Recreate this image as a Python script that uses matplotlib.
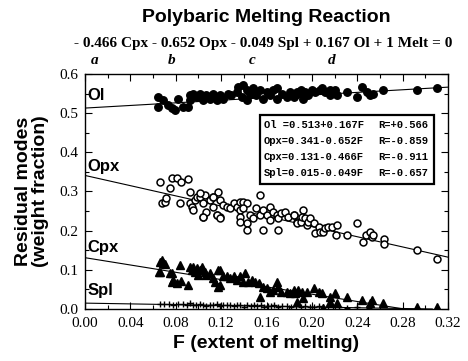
import matplotlib
matplotlib.use("Agg")
import matplotlib.pyplot as plt
from matplotlib.ticker import MultipleLocator, FormatStrFormatter

# ---- data: (F, weight fraction) ----
ol_F = [0.0646, 0.0646, 0.069, 0.0735, 0.0765, 0.079, 0.082, 0.0867, 0.091, 0.0926,
        0.0926, 0.0955, 0.0985, 0.101, 0.104, 0.107, 0.110, 0.113, 0.116, 0.119,
        0.122, 0.126, 0.129, 0.134, 0.135, 0.1395, 0.138, 0.1425, 0.1425, 0.1455,
        0.1485, 0.151, 0.154, 0.157, 0.160, 0.163, 0.166, 0.169, 0.169, 0.1735,
        0.178, 0.181, 0.187, 0.184, 0.187, 0.190, 0.1925, 0.194, 0.197, 0.200,
        0.203, 0.207, 0.2085, 0.2115, 0.216, 0.216, 0.2205, 0.222, 0.231, 0.2395,
        0.244, 0.2485, 0.2515, 0.254, 0.263, 0.2925, 0.310]
ol_y = [0.541, 0.516, 0.533, 0.520, 0.512, 0.507, 0.537, 0.516, 0.516, 0.533,
        0.546, 0.550, 0.541, 0.550, 0.533, 0.546, 0.537, 0.550, 0.533, 0.546,
        0.537, 0.550, 0.546, 0.555, 0.567, 0.572, 0.541, 0.559, 0.533, 0.550,
        0.563, 0.546, 0.559, 0.537, 0.555, 0.546, 0.559, 0.563, 0.537, 0.550,
        0.541, 0.555, 0.550, 0.541, 0.555, 0.559, 0.537, 0.555, 0.546, 0.559,
        0.555, 0.559, 0.565, 0.555, 0.559, 0.546, 0.559, 0.546, 0.555, 0.541,
        0.567, 0.555, 0.546, 0.550, 0.559, 0.559, 0.563]

opx_F = [0.066, 0.0676, 0.0705, 0.071, 0.075, 0.0765, 0.081, 0.085, 0.091, 0.084,
         0.0926, 0.0926, 0.094, 0.0955, 0.097, 0.0985, 0.101, 0.104, 0.104, 0.106,
         0.107, 0.110, 0.113, 0.113, 0.1175, 0.116, 0.119, 0.119, 0.122, 0.125,
         0.128, 0.131, 0.134, 0.154, 0.137, 0.1395, 0.1425, 0.137, 0.1395, 0.137,
         0.137, 0.1425, 0.1455, 0.1485, 0.151, 0.154, 0.157, 0.160, 0.163, 0.163,
         0.1425, 0.157, 0.1705, 0.166, 0.169, 0.1705, 0.173, 0.176, 0.179, 0.184,
         0.187, 0.101, 0.113, 0.104, 0.116, 0.119, 0.184, 0.187, 0.190, 0.1925,
         0.191, 0.194, 0.1955, 0.197, 0.1985, 0.2015, 0.203, 0.206, 0.207, 0.210,
         0.2115, 0.2145, 0.2175, 0.222, 0.2215, 0.231, 0.2395, 0.245, 0.248, 0.2515,
         0.253, 0.254, 0.264, 0.264, 0.293, 0.310]
opx_y = [0.325, 0.270, 0.274, 0.283, 0.308, 0.335, 0.335, 0.325, 0.331, 0.270,
         0.299, 0.270, 0.261, 0.253, 0.278, 0.287, 0.287, 0.270, 0.236, 0.291,
         0.248, 0.278, 0.287, 0.261, 0.299, 0.240, 0.236, 0.278, 0.266, 0.261,
         0.257, 0.270, 0.261, 0.291, 0.274, 0.274, 0.270, 0.253, 0.257, 0.236,
         0.223, 0.219, 0.240, 0.232, 0.257, 0.240, 0.253, 0.240, 0.261, 0.227,
         0.202, 0.202, 0.202, 0.248, 0.240, 0.232, 0.244, 0.248, 0.236, 0.240,
         0.223, 0.295, 0.287, 0.236, 0.240, 0.232, 0.240, 0.219, 0.223, 0.253,
         0.236, 0.232, 0.214, 0.223, 0.232, 0.219, 0.193, 0.210, 0.197, 0.197,
         0.206, 0.210, 0.210, 0.214, 0.189, 0.189, 0.219, 0.170, 0.189, 0.197,
         0.185, 0.189, 0.180, 0.165, 0.150, 0.128]

cpx_F = [0.066, 0.069, 0.0705, 0.066, 0.075, 0.084, 0.0765, 0.081, 0.085, 0.091,
         0.0926, 0.094, 0.0955, 0.097, 0.0985, 0.100, 0.103, 0.106, 0.107, 0.110,
         0.113, 0.1145, 0.1175, 0.119, 0.122, 0.125, 0.128, 0.131, 0.134, 0.137,
         0.1395, 0.141, 0.144, 0.147, 0.150, 0.153, 0.154, 0.157, 0.160, 0.163,
         0.166, 0.169, 0.1705, 0.173, 0.178, 0.181, 0.185, 0.188, 0.0676, 0.065,
         0.0765, 0.078, 0.101, 0.1175, 0.119, 0.184, 0.191, 0.1925, 0.1955, 0.2015,
         0.206, 0.209, 0.216, 0.216, 0.2205, 0.222, 0.231, 0.244, 0.2515, 0.253,
         0.263, 0.2925, 0.310, 0.187, 0.210]
cpx_y = [0.121, 0.118, 0.115, 0.095, 0.091, 0.112, 0.070, 0.066, 0.072, 0.061,
         0.108, 0.100, 0.108, 0.095, 0.104, 0.087, 0.108, 0.095, 0.087, 0.091,
         0.078, 0.070, 0.057, 0.100, 0.083, 0.083, 0.078, 0.083, 0.074, 0.083,
         0.070, 0.091, 0.070, 0.074, 0.070, 0.066, 0.031, 0.057, 0.053, 0.044,
         0.048, 0.070, 0.057, 0.044, 0.044, 0.040, 0.040, 0.048, 0.125, 0.095,
         0.091, 0.074, 0.100, 0.100, 0.061, 0.048, 0.044, 0.027, 0.044, 0.053,
         0.044, 0.040, 0.031, 0.019, 0.040, 0.015, 0.031, 0.023, 0.015, 0.023,
         0.015, 0.006, 0.004, 0.019, 0.002]

spl_F = [0.066, 0.070, 0.074, 0.078, 0.082, 0.086, 0.090, 0.093, 0.095, 0.098,
         0.101, 0.104, 0.107, 0.110, 0.113, 0.116, 0.119, 0.122, 0.125, 0.128,
         0.131, 0.134, 0.137, 0.140, 0.143, 0.146, 0.149, 0.152, 0.155, 0.158,
         0.161, 0.164, 0.167, 0.170, 0.174, 0.178, 0.182, 0.186, 0.190, 0.194,
         0.198, 0.202, 0.206, 0.210, 0.214, 0.219, 0.224, 0.231, 0.240, 0.250]
spl_y = [0.013, 0.012, 0.014, 0.011, 0.013, 0.012, 0.010, 0.015, 0.011, 0.009,
         0.012, 0.010, 0.008, 0.011, 0.009, 0.012, 0.008, 0.010, 0.009, 0.011,
         0.007, 0.009, 0.010, 0.006, 0.009, 0.008, 0.010, 0.007, 0.009, 0.006,
         0.008, 0.007, 0.009, 0.005, 0.008, 0.007, 0.006, 0.008, 0.005, 0.007,
         0.006, 0.004, 0.007, 0.005, 0.006, 0.004, 0.006, 0.003, 0.005, 0.003]

# regression fits  y = a + b*F
fits = {"Ol": (0.513, 0.167), "Opx": (0.341, -0.652),
        "Cpx": (0.131, -0.466), "Spl": (0.015, -0.049)}
fit_text = ["Ol =0.513+0.167F", "Opx=0.341-0.652F", "Cpx=0.131-0.466F", "Spl=0.015-0.049F"]
r_text = ["R=+0.566", "R=-0.859", "R=-0.911", "R=-0.657"]

SERIF = "Liberation Serif"
SANS = "Liberation Sans"

fig = plt.figure(figsize=(4.68, 3.61), dpi=100)
ax = fig.add_axes([85/468, 1-309/361, 363/468, 235/361])

ax.plot(ol_F, ol_y, "o", color="black", ms=5.4, zorder=3)
ax.plot(opx_F, opx_y, "o", mfc="white", mec="black", mew=1.1, ms=5.0, zorder=3)
ax.plot(cpx_F, cpx_y, "^", color="black", ms=5.4, zorder=3)
ax.plot(spl_F, spl_y, "+", color="black", ms=5, mew=1.0, zorder=3)

for name, (a, b) in fits.items():
    xe = 0.32
    if a + b * xe < 0:
        xe = -a / b
    ax.plot([0, xe], [a, a + b * xe], color="black", lw=0.8, zorder=2)

ax.set_xlim(0, 0.32)
ax.set_ylim(0, 0.6)
ax.xaxis.set_major_locator(MultipleLocator(0.04))
ax.xaxis.set_minor_locator(MultipleLocator(0.02))
ax.yaxis.set_major_locator(MultipleLocator(0.1))
ax.yaxis.set_minor_locator(MultipleLocator(0.05))
ax.xaxis.set_major_formatter(FormatStrFormatter("%.2f"))
ax.yaxis.set_major_formatter(FormatStrFormatter("%.1f"))
ax.tick_params(which="both", direction="in", top=True, right=True, width=0.8)
ax.tick_params(which="major", length=5, labelsize=11)
ax.tick_params(axis="x", which="major", pad=6)
ax.tick_params(axis="y", which="major", pad=5)
ax.tick_params(which="minor", length=3)
for lab in ax.get_xticklabels() + ax.get_yticklabels():
    lab.set_fontfamily(SERIF)
for s in ax.spines.values():
    s.set_linewidth(1.0)

# series labels
lab_y = {"Ol": 0.546, "Opx": 0.365, "Cpx": 0.156, "Spl": 0.046}
for name, yy in lab_y.items():
    ax.text(0.002, yy, name, family=SANS, weight="bold", fontsize=12, va="center", ha="left")

# fit box
ax.add_patch(plt.Rectangle((260/468, 1-184/361), 174/468, 69/361, transform=fig.transFigure,
                           fill=True, facecolor="white", edgecolor="black", lw=1.6, zorder=4))
row_y = [125, 141, 157, 173]
for ry, ft, rt in zip(row_y, fit_text, r_text):
    fig.text(264/468, 1-ry/361, ft, family="Liberation Mono", weight="bold",
             fontsize=7.6, va="center", ha="left", zorder=5)
    fig.text(378/468, 1-ry/361, rt, family="Liberation Mono", weight="bold",
             fontsize=7.6, va="center", ha="left", zorder=5)

ax.set_xlabel("F (extent of melting)", family=SANS, weight="bold", fontsize=14, labelpad=3)
ax.set_ylabel("Residual modes\n(weight fraction)", family=SANS, weight="bold",
              fontsize=14, labelpad=7, linespacing=1.0)

fig.text(266/468, 1-18/361, "Polybaric Melting Reaction", family=SANS, weight="bold",
         fontsize=14, ha="center", va="center")
fig.text(263/468, 1-44/361, "- 0.466 Cpx - 0.652 Opx - 0.049 Spl + 0.167 Ol + 1 Melt = 0",
         family=SERIF, weight="bold", fontsize=11, ha="center", va="center")
for lx, lt in zip([95, 172, 252, 332], ["a", "b", "c", "d"]):
    fig.text(lx/468, 1-61/361, lt, family=SERIF, weight="bold", style="italic",
             fontsize=11, ha="center", va="center")

fig.savefig("out.png", dpi=100)
